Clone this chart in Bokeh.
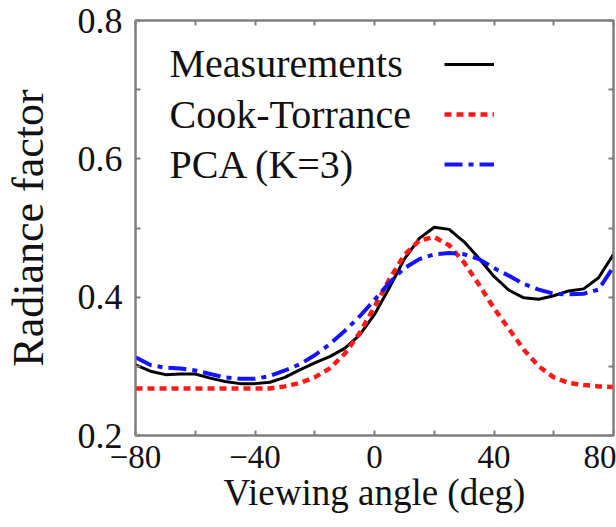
from bokeh.plotting import figure
from bokeh.models import (Range1d, FixedTicker, LinearAxis, Legend, LegendItem, Label,
                          CustomLabelingPolicy)
from bokeh.embed import file_html
from bokeh.resources import INLINE

# ---------------- data ----------------
angles = [-80, -75, -70, -65, -60, -55, -50, -45, -40, -35, -30, -25, -20, -15, -10, -5,
          0, 5, 10, 15, 20, 25, 30, 35, 40, 45, 50, 55, 60, 65, 70, 75, 80]
measurements = [0.302, 0.293, 0.288, 0.289, 0.289, 0.283, 0.278, 0.275, 0.275, 0.277, 0.284,
                0.295, 0.305, 0.314, 0.326, 0.345, 0.375, 0.414, 0.455, 0.485, 0.501, 0.498,
                0.480, 0.456, 0.430, 0.410, 0.399, 0.397, 0.402, 0.409, 0.412, 0.428, 0.462]
cook_torrance = [0.268, 0.268, 0.268, 0.268, 0.268, 0.268, 0.268, 0.268, 0.268, 0.268, 0.271,
                 0.276, 0.284, 0.297, 0.318, 0.348, 0.386, 0.426, 0.461, 0.482, 0.487, 0.475,
                 0.450, 0.418, 0.384, 0.354, 0.324, 0.300, 0.284, 0.276, 0.273, 0.271, 0.270]
pca_k3 = [0.313, 0.302, 0.298, 0.297, 0.294, 0.289, 0.284, 0.282, 0.282, 0.286, 0.294,
          0.303, 0.316, 0.332, 0.351, 0.372, 0.396, 0.421, 0.442, 0.455, 0.462, 0.464,
          0.462, 0.455, 0.442, 0.431, 0.419, 0.411, 0.405, 0.404, 0.405, 0.411, 0.444]

series_names = ["Measurements", "Cook-Torrance", "PCA (K=3)"]
x_major = [-80, -40, 0, 40, 80]
x_minor = [-60, -20, 20, 60]
y_major = [0.2, 0.4, 0.6, 0.8]
y_minor = [0.3, 0.5, 0.7]
x_title = "Viewing angle (deg)"
y_title = "Radiance factor"

FONT = "Liberation Serif"
FRAME = "#7f7f7f"
TXT = "#111111"

p = figure(width=616, height=527, output_backend="svg", toolbar_location=None,
           x_range=Range1d(x_major[0], x_major[-1]), y_range=Range1d(y_major[0], y_major[-1]),
           min_border_left=133, min_border_right=3, min_border_top=20, min_border_bottom=92,
           x_axis_location=None, y_axis_location=None)
p.grid.visible = False
p.outline_line_color = FRAME
p.outline_line_width = 2
p.background_fill_color = "white"
p.border_fill_color = "white"

no_labels = CustomLabelingPolicy(code="""
for (let i = 0; i < indices.size; i++) { indices.unset(i) }
return indices
""")

def style_axis(ax, ticks, minor):
    ax.ticker = FixedTicker(ticks=ticks, minor_ticks=minor)
    ax.axis_line_color = FRAME
    ax.axis_line_width = 2
    ax.major_tick_line_color = FRAME
    ax.minor_tick_line_color = FRAME
    ax.major_tick_line_width = 2
    ax.minor_tick_line_width = 2
    ax.major_tick_in = 5
    ax.major_tick_out = 0
    ax.minor_tick_in = 5
    ax.minor_tick_out = 0

def label_style(ax, size):
    ax.major_label_text_font = FONT
    ax.major_label_text_font_size = size
    ax.major_label_text_color = TXT

xb = LinearAxis(axis_label=x_title)
style_axis(xb, x_major, x_minor)
label_style(xb, "33px")
xb.major_label_standoff = 10
xb.axis_label_text_font = FONT
xb.axis_label_text_font_size = "37px"
xb.axis_label_text_font_style = "normal"
xb.axis_label_text_color = TXT
xb.axis_label_standoff = 1
p.add_layout(xb, "below")

yl = LinearAxis(axis_label=y_title)
style_axis(yl, y_major, y_minor)
label_style(yl, "36px")
yl.major_label_standoff = 13
yl.axis_label_text_font = FONT
yl.axis_label_text_font_size = "44px"
yl.axis_label_text_font_style = "normal"
yl.axis_label_text_color = TXT
yl.axis_label_standoff = 22
p.add_layout(yl, "left")

for side, ticks, minor in (("above", x_major, x_minor), ("right", y_major, y_minor)):
    ax = LinearAxis(major_label_policy=no_labels)
    style_axis(ax, ticks, minor)
    ax.major_label_text_font_size = "0px"
    ax.major_label_standoff = 0
    p.add_layout(ax, side)

r_meas = p.line(angles, measurements, line_color="black", line_width=3)
r_ct = p.line(angles, cook_torrance, line_color="#ff1a1a", line_width=4.5, line_dash="7 5")
r_pca = p.line(angles, pca_k3, line_color="#1414ff", line_width=4, line_dash="18 6 5 6")

# legend: text on the left, line samples on the right (as in the reference)
legend = Legend(items=[LegendItem(label="", renderers=[r_meas]),
                       LegendItem(label="", renderers=[r_ct]),
                       LegendItem(label="", renderers=[r_pca])],
                location=(309, 252), orientation="vertical",
                glyph_width=50, glyph_height=38, label_height=38, label_width=0,
                spacing=12, label_standoff=0, padding=0, margin=0,
                border_line_color=None, background_fill_alpha=0,
                label_text_font=FONT, label_text_font_size="33px")
p.add_layout(legend, "center")

for i, name in enumerate(series_names):
    p.add_layout(Label(x=x_major[0], y=y_major[-1], text=name, text_font=FONT,
                       text_font_size="40px", text_color=TXT, text_align="left",
                       text_baseline="middle", x_offset=34, y_offset=-43 - 50.5 * i))

open("out.html", "w").write(file_html(p, INLINE))
